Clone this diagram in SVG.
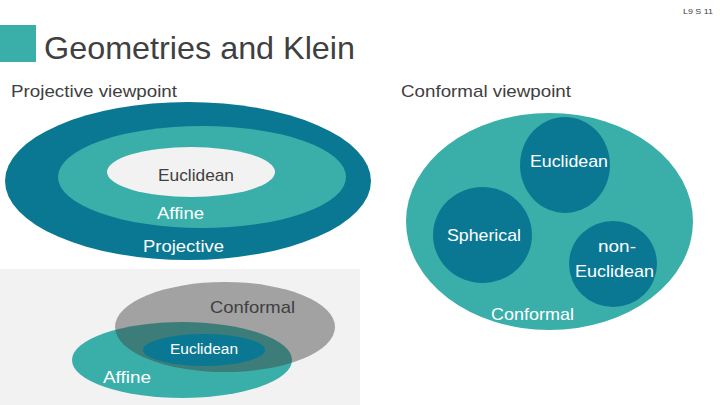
<svg xmlns="http://www.w3.org/2000/svg" width="720" height="405" viewBox="0 0 720 405">
<style>
text { font-family: "Liberation Sans", "DejaVu Sans", sans-serif; }
.dark { fill: #404040; }
.white { fill: #ffffff; }
.lbl { font-size: 17px; }
</style>
<rect width="720" height="405" fill="#ffffff"/>
<g id="header">
<rect x="0" y="25" width="36" height="37" fill="#3AAFA9"/>
<text x="44" y="59" class="dark" font-size="32" textLength="311" lengthAdjust="spacingAndGlyphs">Geometries and Klein</text>
<text x="683" y="14" class="dark" font-size="8" textLength="30" lengthAdjust="spacingAndGlyphs">L9 S 11</text>
<text x="11" y="97" class="dark lbl" textLength="166" lengthAdjust="spacingAndGlyphs">Projective viewpoint</text>
<text x="401" y="97" class="dark lbl" textLength="170" lengthAdjust="spacingAndGlyphs">Conformal viewpoint</text>
</g>
<g id="projective">
<ellipse cx="188" cy="181" rx="183" ry="79" fill="#0B7893"/>
<text x="143" y="252" class="white lbl" textLength="81" lengthAdjust="spacingAndGlyphs">Projective</text>
</g>
<g id="affine">
<ellipse cx="202" cy="177" rx="144" ry="51" fill="#3AAFA9"/>
<text x="157" y="219" class="white lbl" textLength="47" lengthAdjust="spacingAndGlyphs">Affine</text>
</g>
<g id="euclidean-proj">
<ellipse cx="191" cy="172" rx="84" ry="25" fill="#F2F2F2"/>
<text x="158" y="181" class="dark lbl" textLength="76" lengthAdjust="spacingAndGlyphs">Euclidean</text>
</g>
<g id="venn-panel">
<rect x="0" y="269" width="360" height="136" fill="#F2F2F2"/>
</g>
<g id="venn-affine">
<ellipse cx="182" cy="360" rx="110" ry="38" fill="#3AAFA9"/>
<text x="103" y="383" class="white lbl" textLength="48" lengthAdjust="spacingAndGlyphs">Affine</text>
</g>
<g id="venn-conformal">
<ellipse cx="225" cy="327" rx="110" ry="45" fill="#404040" fill-opacity="0.45"/>
<text x="210" y="313" class="dark lbl" textLength="85" lengthAdjust="spacingAndGlyphs">Conformal</text>
</g>
<g id="venn-euclidean">
<ellipse cx="204" cy="350" rx="61" ry="16" fill="#0B7893"/>
<text x="170" y="354" class="white" font-size="14" textLength="68" lengthAdjust="spacingAndGlyphs">Euclidean</text>
</g>
<g id="conformal">
<ellipse cx="549.5" cy="221.5" rx="143.5" ry="108.5" fill="#3AAFA9"/>
<text x="491" y="320" class="white lbl" textLength="83" lengthAdjust="spacingAndGlyphs">Conformal</text>
</g>
<g id="euclidean-conf">
<ellipse cx="565" cy="165" rx="45" ry="48" fill="#0B7893"/>
<text x="530" y="167" class="white lbl" textLength="78" lengthAdjust="spacingAndGlyphs">Euclidean</text>
</g>
<g id="spherical">
<ellipse cx="482.5" cy="235" rx="49.5" ry="48" fill="#0B7893"/>
<text x="447" y="241" class="white lbl" textLength="74" lengthAdjust="spacingAndGlyphs">Spherical</text>
</g>
<g id="non-euclidean">
<ellipse cx="613" cy="264" rx="44" ry="43" fill="#0B7893"/>
<text x="598" y="252" class="white lbl" textLength="38" lengthAdjust="spacingAndGlyphs">non-</text>
<text x="575" y="277" class="white lbl" textLength="79" lengthAdjust="spacingAndGlyphs">Euclidean</text>
</g>
<g id="connectors"/>
</svg>
